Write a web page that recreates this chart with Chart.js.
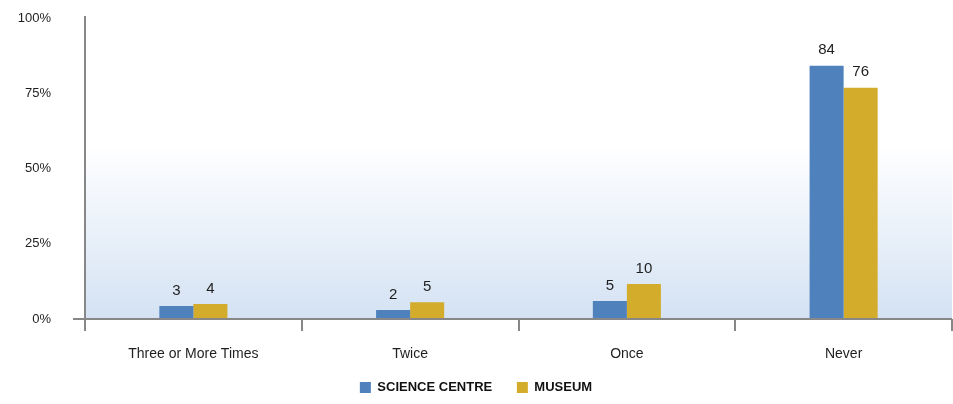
<!DOCTYPE html>
<html>
<head>
<meta charset="utf-8">
<script src="https://cdn.jsdelivr.net/npm/chart.js@4/dist/chart.umd.min.js"></script>
<style>
  html, body { margin: 0; padding: 0; background: #fff; }
  #wrap { width: 953px; height: 404px; position: relative; }
</style>
</head>
<body>
<div id="wrap"><canvas id="chart"></canvas></div>
<script>
// Categories and series
const categories = ['Three or More Times', 'Twice', 'Once', 'Never'];
const scienceCentre = [4.3, 3.0, 6.0, 84.1];
const museum = [5.0, 5.6, 11.6, 76.8];
// value labels as printed above the bars
const scienceLabels = ['3', '2', '5', '84'];
const museumLabels = ['4', '5', '10', '76'];
const yTicks = [0, 25, 50, 75, 100];

const AXIS = '#878787';
const FONT = '"Liberation Sans", Arial, sans-serif';

// light blue wash in the lower part of the plot
const plotBackground = {
  id: 'plotBackground',
  beforeDatasetsDraw(chart) {
    const { ctx, chartArea: a } = chart;
    const g = ctx.createLinearGradient(0, a.top, 0, a.bottom);
    g.addColorStop(0, '#ffffff');
    g.addColorStop(0.42, '#ffffff');
    g.addColorStop(1, '#d4e2f3');
    ctx.save();
    ctx.fillStyle = g;
    ctx.fillRect(a.left, a.top, a.right - a.left, a.bottom - a.top);
    ctx.restore();
  }
};

// axis lines, drawn a bit past the corner like the original
const axisLines = {
  id: 'axisLines',
  afterDatasetsDraw(chart) {
    const { ctx, chartArea: a } = chart;
    ctx.save();
    ctx.strokeStyle = AXIS;
    ctx.lineWidth = 2;
    ctx.beginPath();
    ctx.moveTo(a.left, a.top - 2);
    ctx.lineTo(a.left, a.bottom + 12);
    ctx.moveTo(a.left - 12, a.bottom);
    ctx.lineTo(a.right, a.bottom);
    ctx.stroke();
    ctx.restore();
  }
};

const valueLabels = {
  id: 'valueLabels',
  afterDatasetsDraw(chart) {
    const { ctx } = chart;
    const texts = [scienceLabels, museumLabels];
    ctx.save();
    ctx.font = '15px ' + FONT;
    ctx.fillStyle = '#1e1e1e';
    ctx.textAlign = 'center';
    ctx.textBaseline = 'bottom';
    chart.data.datasets.forEach((ds, i) => {
      chart.getDatasetMeta(i).data.forEach((bar, j) => {
        ctx.fillText(texts[i][j], bar.x, bar.y - 8);
      });
    });
    ctx.restore();
  }
};

new Chart(document.getElementById('chart'), {
  type: 'bar',
  data: {
    labels: categories,
    datasets: [
      { label: 'SCIENCE CENTRE', data: scienceCentre, backgroundColor: '#4f81bd' },
      { label: 'MUSEUM', data: museum, backgroundColor: '#d4ac2b' }
    ]
  },
  options: {
    responsive: true,
    maintainAspectRatio: false,
    animation: false,
    categoryPercentage: 0.314,
    barPercentage: 1.0,
    layout: { autoPadding: false, padding: { top: 18, right: 1, left: 0, bottom: 0 } },
    plugins: {
      tooltip: { enabled: false },
      legend: {
        position: 'bottom',
        labels: {
          boxWidth: 11,
          boxHeight: 11,
          padding: 3,
          color: '#111',
          font: { family: FONT, size: 13, weight: 'bold', lineHeight: 1 },
          // a little more room between the two entries
          generateLabels(chart) {
            const items = Chart.defaults.plugins.legend.labels.generateLabels(chart);
            items[0].text += '\u00a0\u00a0\u00a0\u00a0\u00a0\u00a0';
            return items;
          }
        }
      }
    },
    scales: {
      x: {
        offset: true,
        afterFit(scale) { scale.height = 59; },
        grid: {
          offset: true,
          drawOnChartArea: false,
          drawTicks: true,
          tickLength: 12,
          tickWidth: 2,
          tickColor: AXIS,
          lineWidth: 2,
          color: AXIS
        },
        border: { display: false },
        ticks: {
          padding: 15,
          color: '#1e1e1e',
          font: { family: FONT, size: 14 }
        }
      },
      y: {
        min: 0,
        max: 100,
        afterBuildTicks(scale) { scale.ticks = yTicks.map(v => ({ value: v })); },
        afterFit(scale) { scale.width = 85; },
        // invisible tick marks push the labels away from the axis
        grid: { drawOnChartArea: false, drawTicks: true, tickLength: 30, tickColor: 'rgba(0,0,0,0)', color: 'rgba(0,0,0,0)' },
        border: { display: false },
        ticks: {
          padding: 4,
          color: '#1e1e1e',
          font: { family: FONT, size: 13 },
          callback: v => v + '%'
        }
      }
    }
  },
  plugins: [plotBackground, axisLines, valueLabels]
});
</script>
</body>
</html>
